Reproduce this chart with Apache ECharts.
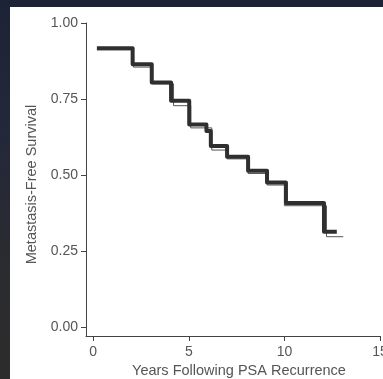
<!DOCTYPE html>
<html>
<head>
<meta charset="utf-8">
<script src="https://cdn.jsdelivr.net/npm/echarts@6/dist/echarts.min.js"></script>
<style>
html,body{margin:0;padding:0;width:383px;height:379px;overflow:hidden;
background:linear-gradient(to bottom,#1d2336 0%,#23283a 35%,#2b2c30 70%,#2c2c2c 100%);}
#chart{position:absolute;left:10px;top:7px;width:373px;height:372px;background:#fff;}
</style>
</head>
<body>
<div id="chart"></div>
<script>
// Kaplan-Meier step curves (years, survival)
const thickTimes = [0.19, 2.06, 3.06, 4.07, 5.02, 5.92, 6.15, 7.0, 8.1, 9.09, 10.08, 12.07, 12.74];
const thickSurv  = [0.917, 0.864, 0.804, 0.744, 0.666, 0.645, 0.595, 0.560, 0.514, 0.475, 0.408, 0.313, 0.313];
const thinTimes  = [0.19, 2.1, 3.1, 4.2, 5.1, 6.2, 7.0, 8.1, 9.1, 10.0, 12.2, 13.08];
const thinSurv   = [0.912, 0.855, 0.800, 0.728, 0.655, 0.582, 0.553, 0.505, 0.467, 0.399, 0.297, 0.297];
const xTicks = [0, 5, 10, 15];
const yTicks = [0, 0.25, 0.5, 0.75, 1.0];
const xTitle = 'Years Following PSA Recurrence';
const yTitle = 'Metastasis-Free Survival';

const pairs = (xs, ys) => xs.map((x, i) => [x, ys[i]]);
const textColor = '#555';
const font = 'Liberation Sans, Arial, Helvetica, sans-serif';

const chart = echarts.init(document.getElementById('chart'));
chart.setOption({
  animation: false,
  grid: { left: 76, right: 3, top: 16, bottom: 43, containLabel: false, outerBoundsMode: 'none' },
  xAxis: {
    type: 'value', min: -0.38, max: 15,
    name: xTitle, nameLocation: 'middle', nameGap: 26,
    nameTextStyle: { color: textColor, fontSize: 14.5, fontFamily: font, padding: [0, 0, 0, 12] },
    axisLine: { show: true, onZero: false, lineStyle: { color: '#444', width: 1 } },
    axisTick: { show: true, length: 5, lineStyle: { color: '#444' }, customValues: xTicks },
    axisLabel: { color: textColor, fontSize: 14, fontFamily: font, margin: 9, customValues: xTicks,
      formatter: v => String(Math.round(v)) },
    splitLine: { show: false }
  },
  yAxis: {
    type: 'value', min: -0.0296, max: 1.0,
    name: yTitle, nameLocation: 'middle', nameGap: 46, nameRotate: 90,
    nameTextStyle: { color: textColor, fontSize: 14.5, fontFamily: font, padding: [0, 10, 0, 0] },
    axisLine: { show: true, onZero: false, lineStyle: { color: '#444', width: 1 } },
    axisTick: { show: true, length: 5, lineStyle: { color: '#444' }, customValues: yTicks },
    axisLabel: { color: textColor, fontSize: 14, fontFamily: font, margin: 8, customValues: yTicks,
      formatter: v => v.toFixed(2) },
    splitLine: { show: false }
  },
  series: [
    { type: 'line', step: 'end', data: pairs(thinTimes, thinSurv), showSymbol: false,
      lineStyle: { color: '#555', width: 1 }, z: 2 },
    { type: 'line', step: 'end', data: pairs(thickTimes, thickSurv), showSymbol: false,
      lineStyle: { color: '#2f2f2f', width: 4, join: 'round' }, z: 3 }
  ]
});
</script>
</body>
</html>
